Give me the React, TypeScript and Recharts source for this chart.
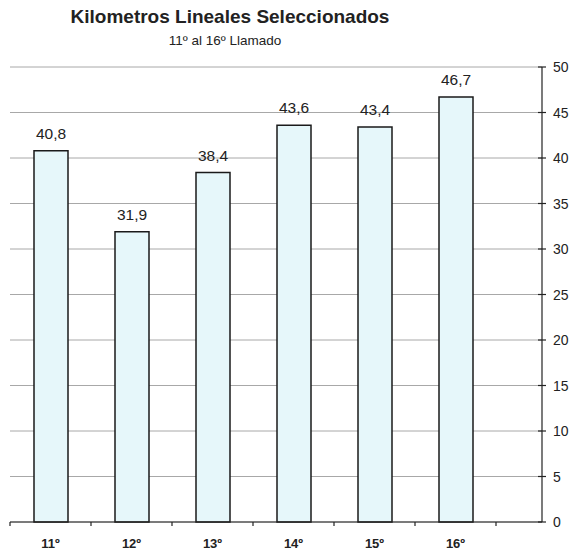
import { BarChart, Bar, XAxis, YAxis, CartesianGrid, LabelList } from "recharts";

const llamados = ["11º", "12º", "13º", "14º", "15º", "16º"];
const kilometros = [40.8, 31.9, 38.4, 43.6, 43.4, 46.7];
const yTicks = [0, 5, 10, 15, 20, 25, 30, 35, 40, 45, 50];

const data = llamados.map((name, i) => ({ name, km: kilometros[i] }));

const FONT = "'Liberation Sans', Arial, sans-serif";
const BAND = 81;

const XTick = ({ x, y, payload, index }: any) => (
  <g>
    <line x1={x - BAND / 2} x2={x - BAND / 2} y1={y} y2={y + 4} stroke="#222" strokeWidth={1.2} />
    {index === llamados.length - 1 && (
      <line x1={x + BAND / 2} x2={x + BAND / 2} y1={y} y2={y + 4} stroke="#222" strokeWidth={1.2} />
    )}
    <text x={x} y={y + 26} textAnchor="middle" fontSize={13} fontWeight="bold" fill="#222" fontFamily={FONT}>
      {payload.value}
    </text>
  </g>
);

const YTick = ({ x, y, payload }: any) => (
  <g>
    <line x1={x - 4} x2={x + 4} y1={y} y2={y} stroke="#222" strokeWidth={1.2} />
    <text x={x + 11} y={y + 5} fontSize={14} fill="#222" fontFamily={FONT}>
      {payload.value}
    </text>
  </g>
);

export default function App() {
  return (
    <div style={{ position: "absolute", left: 0, top: 0, width: 571, height: 553, background: "#fff" }}>
      <div style={{ position: "absolute", left: 0, width: 460, top: 6, textAlign: "center", fontFamily: FONT, fontWeight: "bold", fontSize: 19, color: "#222" }}>
        Kilometros Lineales Seleccionados
      </div>
      <div style={{ position: "absolute", left: 0, width: 450, top: 33, textAlign: "center", fontFamily: FONT, fontSize: 13.5, color: "#222" }}>
        11º al 16º Llamado
      </div>
      <BarChart width={571} height={553} data={data} margin={{ top: 67, right: 0, bottom: 0, left: 10 }} barSize={34}>
        <CartesianGrid vertical={false} stroke="#a8a8a8" strokeWidth={1} />
        <XAxis
          dataKey="name"
          height={31}
          padding={{ left: 0, right: 46 }}
          tickLine={false}
          tickSize={0}
          tickMargin={0}
          tick={<XTick />}
          axisLine={{ stroke: "#222", strokeWidth: 1.2 }}
          interval={0}
        />
        <YAxis
          orientation="right"
          width={29}
          domain={[0, 50]}
          ticks={yTicks}
          tickLine={false}
          tickSize={0}
          tickMargin={0}
          tick={<YTick />}
          axisLine={{ stroke: "#222", strokeWidth: 1.2 }}
          interval={0}
        />
        <Bar dataKey="km" fill="#e6f7fa" stroke="#1a1a1a" strokeWidth={1.5} isAnimationActive={false}>
          <LabelList
            dataKey="km"
            position="top"
            offset={12}
            formatter={(v: any) => String(v).replace(".", ",")}
            style={{ fontSize: 15.5, fill: "#222", fontFamily: FONT }}
          />
        </Bar>
      </BarChart>
    </div>
  );
}
